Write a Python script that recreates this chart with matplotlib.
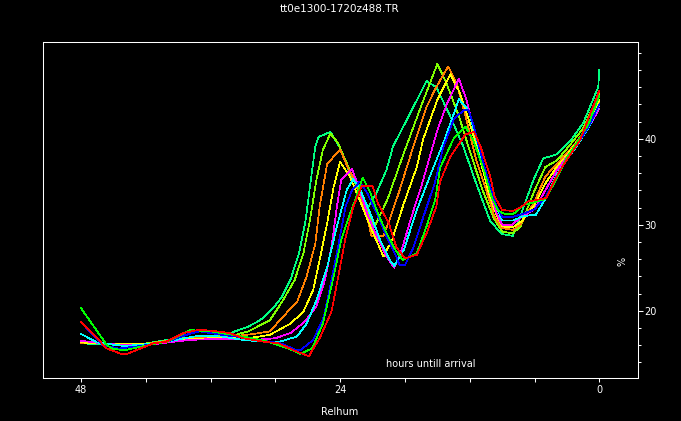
import matplotlib
matplotlib.use('Agg')
import matplotlib.pyplot as plt
from matplotlib.ticker import FixedLocator, MultipleLocator
import numpy as np

title = 'tt0e1300-1720z488.TR'
x_label = 'Relhum'
y_label = '%'
note = 'hours untill arrival'

# (hours until arrival, relhum %) vertices for each run
springgreen = [(48, 16.2), (46, 16.1), (44, 16.0), (42, 16.2), (40, 16.6), (38, 16.9), (36, 17.0),
               (34.2, 17.4), (32.6, 18.1), (31.4, 18.9), (30.2, 20.3), (29.4, 21.6), (28.6, 23.6),
               (27.8, 26.7), (27.2, 30.5), (26.8, 34.4), (26.3, 39.1), (26.0, 40.2), (24.9, 40.8),
               (24.0, 38.9), (23.1, 36.0), (22.0, 33.7), (21.5, 31.8), (20.6, 33.8), (19.7, 36.4),
               (19.1, 39.1), (17.5, 43.0), (16.0, 46.7), (15.1, 46.0), (13.8, 42.6), (12.6, 39.1),
               (11.4, 34.8), (10.1, 30.4), (9.0, 28.9), (8.0, 28.7), (7.0, 32.1), (6.1, 35.2),
               (5.2, 37.7), (3.9, 38.2), (2.7, 39.7), (1.5, 41.8), (0.1, 46.0), (0.0, 48.0)]
chartreuse = [(48, 16.4), (46, 16.2), (44, 16.0), (42, 16.2), (40, 16.5), (38, 16.9), (36, 17.0),
              (34, 17.1), (32.5, 17.6), (30.5, 18.9), (29.3, 21.2), (28.2, 23.6), (27.4, 26.7),
              (26.8, 30.5), (26.2, 35.2), (25.6, 38.7), (24.9, 40.6), (24.2, 39.5), (23.2, 36.6),
              (22.0, 33.0), (20.8, 29.8), (19.6, 33.0), (18.2, 38.0), (16.5, 43.8), (15.0, 48.7),
              (14.2, 46.6), (13.0, 42.6), (11.9, 38.2), (10.8, 34.0), (9.8, 30.8), (9.0, 29.2),
              (8.0, 29.0), (7.3, 29.8), (6.1, 33.7), (5.0, 36.7), (3.9, 37.5), (2.7, 39.3),
              (1.5, 41.2), (0.0, 45.3)]
orange = [(48, 16.2), (46, 16.2), (44, 16.0), (42, 16.1), (40, 16.5), (38, 16.8), (36, 16.9),
          (34, 17.0), (32, 17.3), (30.5, 17.6), (29.3, 19.3), (28.0, 21.0), (27.1, 24.0),
          (26.3, 27.8), (25.9, 32.1), (25.2, 37.1), (24.0, 38.7), (23.2, 36.4), (22.5, 34.8),
          (21.5, 30.9), (21.1, 28.7), (20.0, 28.7), (19.3, 31.0), (18.5, 34.0), (17.5, 38.0),
          (16.0, 43.7), (15.1, 46.0), (14.0, 48.4), (13.2, 46.4), (12.3, 42.2), (11.4, 37.5),
          (10.4, 33.7), (9.7, 30.9), (9.0, 29.6), (8.0, 29.4), (7.3, 30.0), (6.0, 32.7),
          (5.0, 35.6), (4.0, 37.0), (3.0, 38.3), (2.0, 39.8), (1.0, 41.6), (0.0, 44.1)]
yellow = [(48, 16.3), (46, 16.2), (44, 16.1), (42, 16.1), (40, 16.4), (38, 16.7), (36, 16.8),
          (34, 16.9), (32, 16.9), (30.5, 17.2), (28.6, 18.5), (27.4, 19.9), (26.5, 22.4),
          (25.9, 25.9), (25.2, 30.2), (24.6, 34.4), (24.0, 37.3), (23.1, 35.6), (22.2, 32.9),
          (21.2, 29.8), (20.0, 26.3), (19.2, 28.2), (18.1, 32.5), (16.9, 36.7), (16.3, 40.0),
          (15.0, 44.5), (13.8, 47.5), (12.9, 45.3), (12.0, 41.8), (11.1, 37.9), (10.3, 34.0),
          (9.7, 31.7), (9.0, 29.8), (8.0, 29.7), (7.2, 30.4), (6.0, 32.3), (5.0, 34.8),
          (4.0, 36.6), (3.0, 38.1), (2.0, 39.7), (1.0, 41.5), (0.0, 44.5)]
magenta = [(48, 16.5), (46, 16.2), (44, 16.0), (42, 16.0), (40, 16.3), (38, 16.6), (36, 16.7),
           (34, 16.7), (32, 16.6), (30, 16.8), (28.6, 17.4), (27.3, 18.7), (26.2, 20.5),
           (25.4, 23.6), (24.8, 27.4), (24.3, 32.1), (23.9, 35.2), (22.9, 36.5), (22.3, 34.4),
           (21.5, 31.3), (20.6, 28.6), (19.7, 26.3), (19.0, 25.0), (18.3, 27.1), (17.4, 30.9),
           (16.4, 34.8), (15.7, 37.9), (15.0, 41.0), (14.1, 44.1), (13.0, 47.0), (12.3, 44.5),
           (11.5, 40.6), (10.7, 36.7), (10.1, 33.7), (9.5, 31.3), (9.0, 30.0), (8.1, 30.0),
           (7.2, 30.9), (6.0, 31.8), (5.0, 34.0), (4.0, 36.2), (3.0, 37.9), (2.0, 39.5),
           (1.0, 41.3), (0.0, 43.5)]
cyan = [(48, 17.3), (46.5, 16.3), (44, 15.9), (42, 16.1), (40, 16.4), (38, 16.9), (37, 17.1),
        (35, 17.0), (33, 16.6), (31, 16.4), (29.6, 16.4), (28.0, 17.0), (27.1, 18.5),
        (26.2, 21.2), (25.2, 25.1), (24.3, 29.8), (23.4, 34.0), (22.8, 35.3), (22.2, 34.2),
        (21.2, 31.3), (20.3, 28.2), (19.4, 25.9), (19.0, 25.2), (18.1, 27.1), (16.9, 31.7),
        (15.7, 35.6), (14.3, 40.0), (13.0, 44.6), (12.1, 43.3), (11.4, 40.0), (10.6, 36.4),
        (9.8, 32.9), (9.0, 30.5), (8.0, 30.5), (7.0, 31.0), (6.4, 31.1), (5.9, 31.1),
        (5.0, 33.0), (4.0, 35.7), (3.0, 37.6), (2.0, 39.3), (1.0, 41.3), (0.0, 43.9)]
blue = [(48, 18.7), (47, 17.3), (46, 16.0), (44.5, 15.6), (42.5, 15.9), (41, 16.2), (40, 16.4),
        (38, 17.3), (37, 17.6), (35, 17.2), (33, 16.9), (31, 16.5), (29.5, 16.2), (28.0, 15.4),
        (27.7, 15.4), (26.5, 16.6), (25.5, 19.3), (24.8, 23.6), (24.2, 27.4), (23.5, 32.1),
        (22.9, 34.0), (22.2, 35.0), (21.5, 33.7), (20.6, 31.3), (19.7, 28.6), (18.8, 26.3),
        (18.5, 25.3), (18.0, 25.3), (17.2, 27.4), (16.3, 30.9), (15.2, 35.0), (14.5, 38.8),
        (13.5, 42.2), (12.6, 43.3), (12.1, 43.3), (11.7, 41.8), (10.9, 37.9), (10.1, 34.4),
        (9.5, 32.1), (9.0, 30.9), (8.0, 30.9), (7.0, 31.3), (6.0, 31.8), (5.0, 33.2),
        (4.0, 35.5), (3.0, 37.6), (2.0, 39.4), (1.0, 41.4), (0.0, 44.0)]
green = [(48, 20.3), (45.6, 16.0), (45.1, 15.6), (44, 15.4), (42.5, 15.8), (41, 16.2), (40, 16.4),
         (37.9, 17.75), (36.0, 17.6), (34, 17.2), (33, 17.0), (31, 16.5), (28.8, 15.6),
         (27.7, 15.0), (26.6, 15.6), (25.6, 18.5), (24.6, 24.0), (23.9, 28.2), (23.2, 30.9),
         (22.6, 32.9), (21.9, 35.5), (21.2, 33.7), (20.5, 31.3), (19.7, 29.0), (18.9, 27.1),
         (18.2, 25.9), (16.9, 26.7), (16.0, 29.8), (15.2, 32.9), (14.75, 36.6), (13.5, 40.0),
         (12.4, 41.4), (11.7, 39.9), (10.7, 36.4), (10.0, 33.3), (9.4, 31.7), (8.9, 31.3),
         (8.0, 31.2), (7.0, 32.3), (6.0, 32.6), (5.0, 33.0), (4.0, 35.2), (3.0, 37.8),
         (2.0, 39.7), (1.0, 41.7), (0.0, 45.0)]
red = [(48, 18.7), (45.6, 15.6), (44.3, 15.0), (43.7, 15.0), (42.5, 15.6), (41.3, 16.2),
       (40.1, 16.4), (38.5, 17.4), (37.0, 17.8), (35.4, 17.6), (34.2, 17.4), (33.0, 16.8),
       (31.1, 16.4), (29.7, 16.2), (28.3, 15.4), (26.9, 14.7), (25.9, 16.8), (24.8, 19.9),
       (24.2, 23.8), (23.5, 28.5), (22.8, 32.0), (22.0, 34.5), (21.0, 34.5), (20.5, 32.5),
       (19.5, 30.2), (18.8, 27.4), (18.0, 26.1), (16.9, 26.5), (16.0, 29.0), (15.1, 32.1),
       (14.75, 35.0), (13.8, 37.9), (12.4, 40.5), (11.6, 40.8), (11.0, 39.1), (10.1, 35.6),
       (9.7, 33.3), (9.0, 31.7), (8.0, 31.6), (7.2, 32.1), (6.6, 32.7), (4.9, 33.1),
       (4.3, 34.8), (3.6, 36.4), (1.8, 39.8), (0.0, 45.6)]

runs = [(springgreen, '#00ff80'), (chartreuse, '#80ff00'), (orange, '#ff8000'),
        (yellow, '#ffff00'), (magenta, '#ff00ff'), (cyan, '#00ffff'),
        (blue, '#0000ff'), (green, '#00ff00'), (red, '#ff0000')]

fig = plt.figure(figsize=(6.81, 4.21), dpi=100, facecolor='black')
ax = fig.add_axes([0.0631, 0.1014, 0.8742, 0.7981])
ax.set_facecolor('black')

for pts, color in runs:
    h, v = np.array(pts).T
    ax.plot(h, v, color=color, lw=0.5, antialiased=False)

ax.set_xlim(51.52, -3.61)
ax.set_ylim(12.14, 51.21)

for s in ax.spines.values():
    s.set_color('white')
    s.set_linewidth(0.75)

ax.xaxis.set_major_locator(FixedLocator([48, 24, 0]))
ax.xaxis.set_minor_locator(FixedLocator([42, 36, 30, 18, 12, 6]))
ax.yaxis.tick_right()
ax.yaxis.set_major_locator(FixedLocator([20, 30, 40]))
ax.yaxis.set_minor_locator(MultipleLocator(2))

ax.tick_params(axis='x', which='both', colors='white', direction='out',
               length=2.6, width=0.75, labelsize=7, pad=2.5)
ax.tick_params(axis='y', which='major', colors='white', direction='out',
               length=3.8, width=0.75, labelsize=7, pad=0.5)
ax.tick_params(axis='y', which='minor', colors='white', direction='out',
               length=2.0, width=0.75)

fig.text(340 / 681, 1 - 9.5 / 421, title, color='white', fontsize=7.5,
         ha='center', va='center')
fig.text(340 / 681, 1 - 412 / 421, x_label, color='white', fontsize=7,
         ha='center', va='center')
fig.text(622 / 681, 1 - 261.7 / 421, y_label, color='white', fontsize=7,
         rotation=90, ha='center', va='center')
fig.text(431 / 681, 1 - 364 / 421, note, color='white', fontsize=7,
         ha='center', va='center')

fig.savefig('out.png', dpi=100, facecolor='black')
